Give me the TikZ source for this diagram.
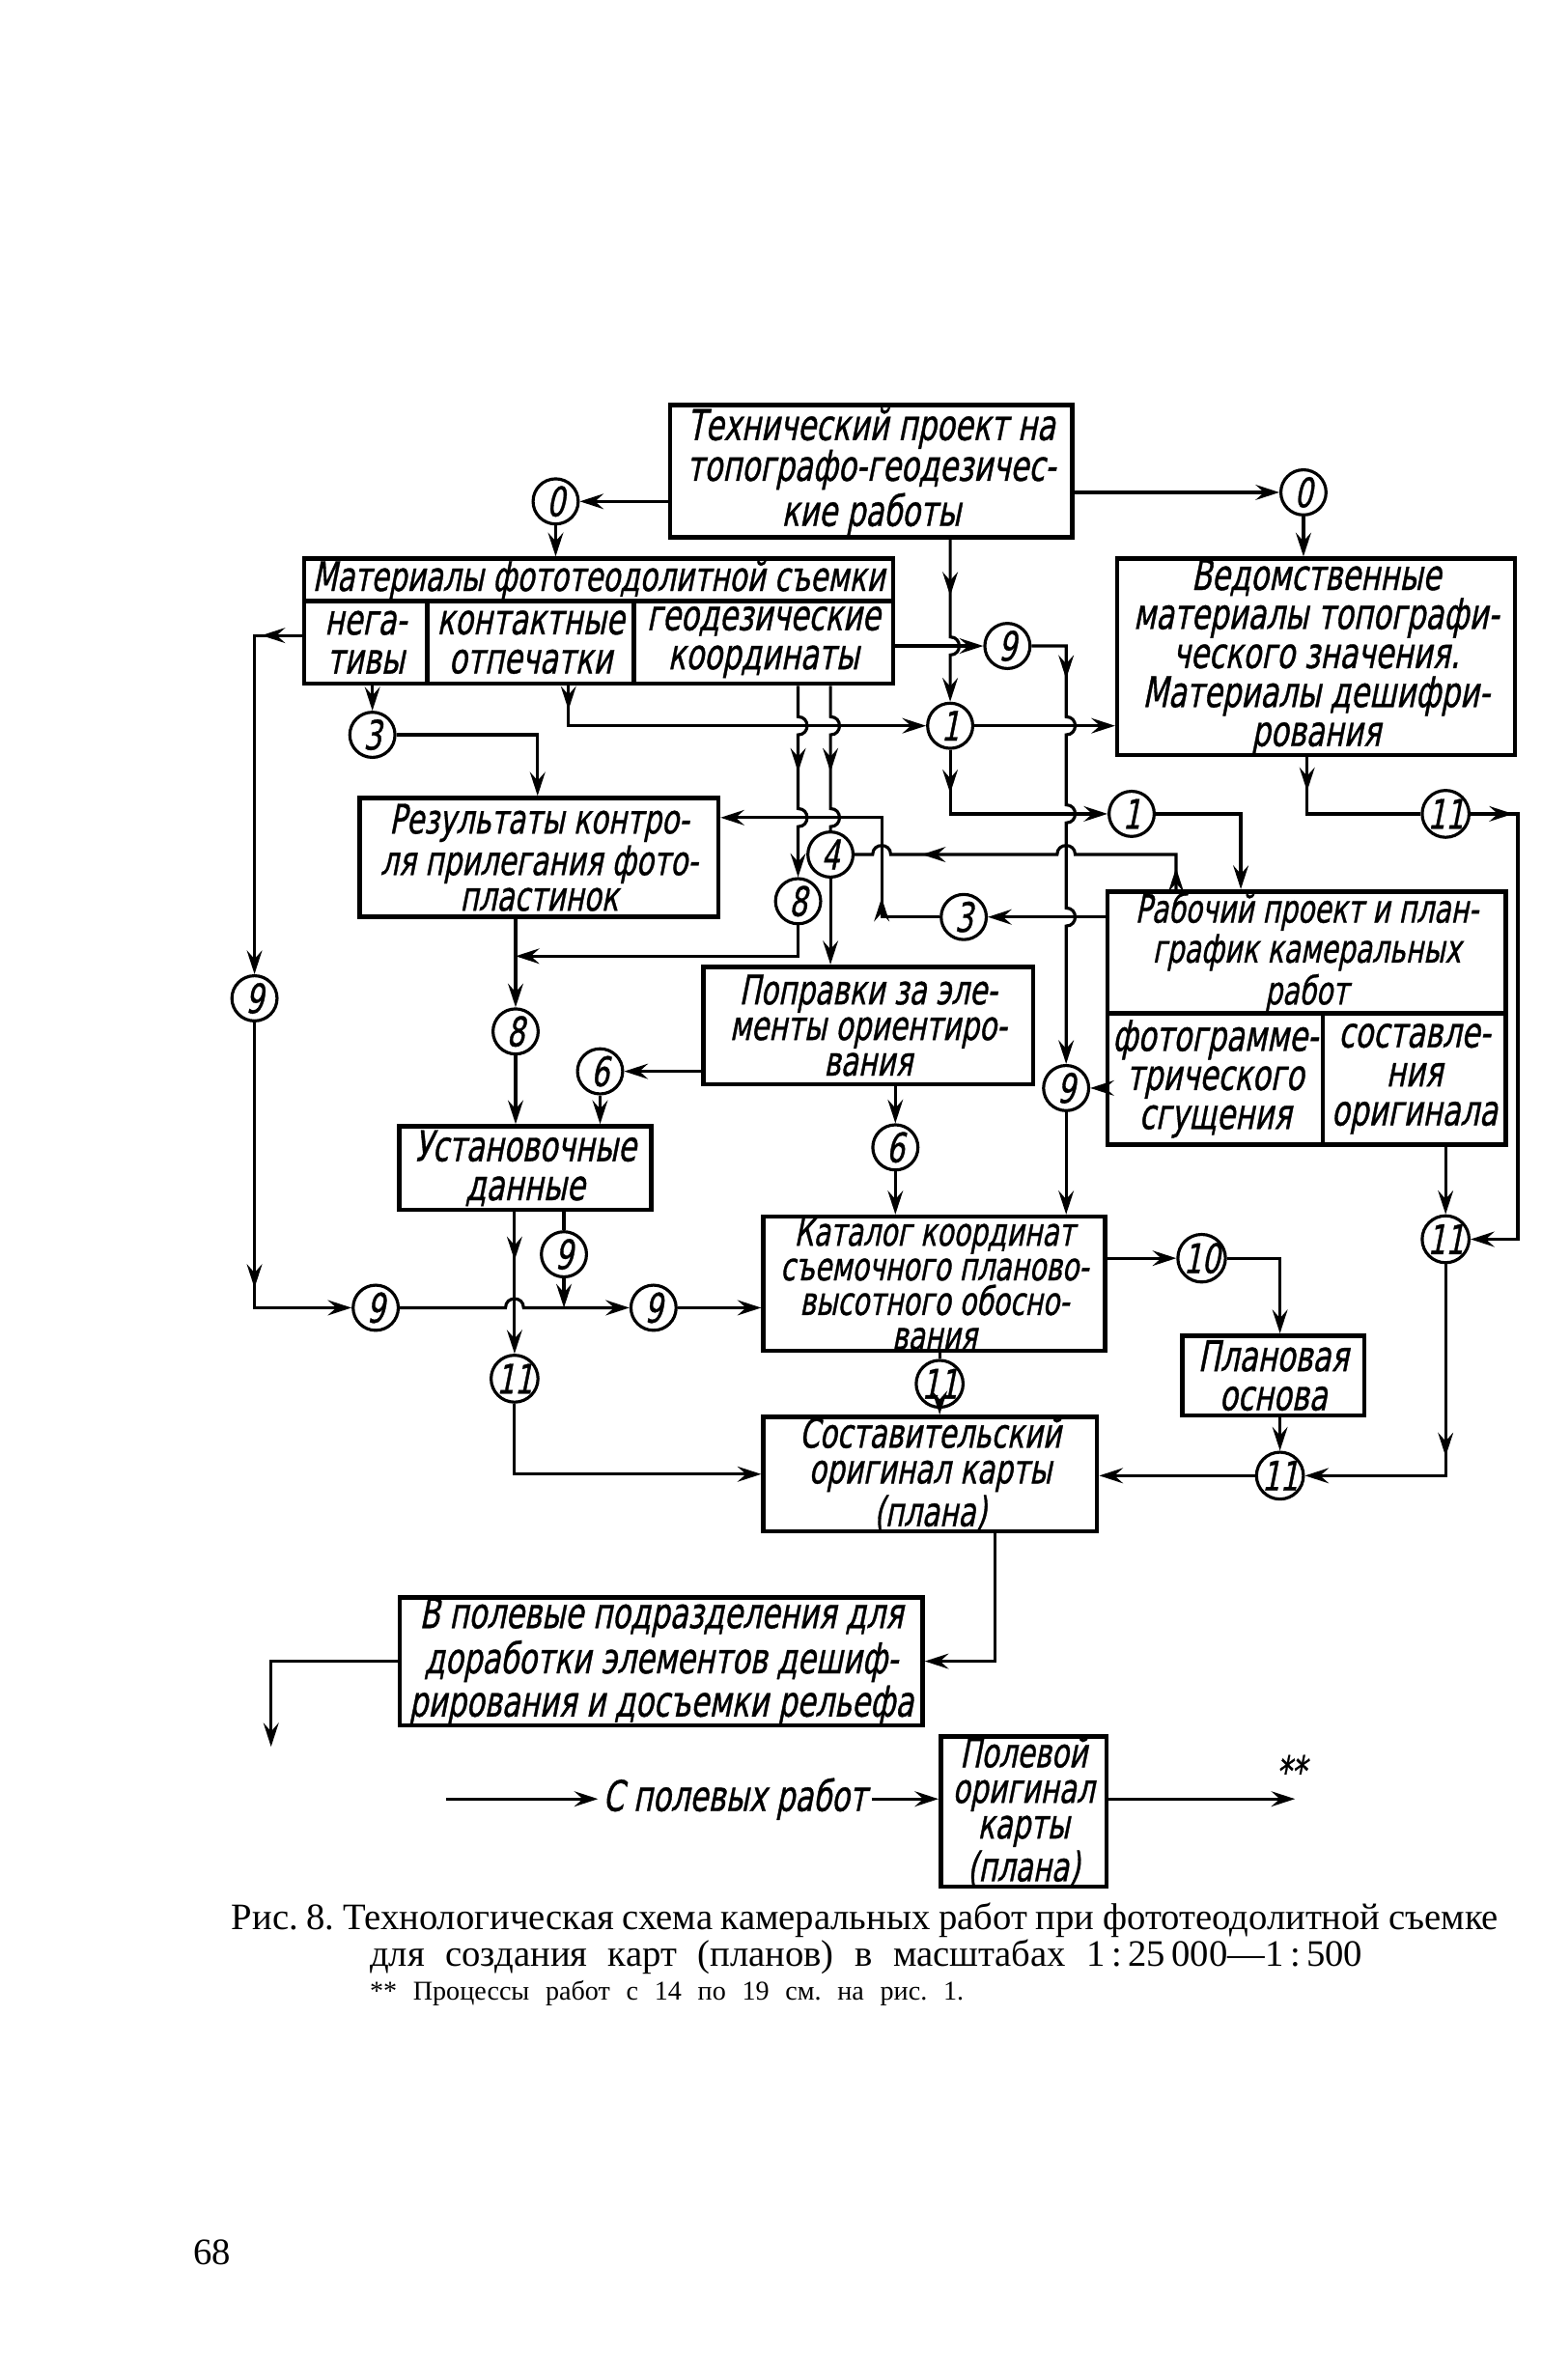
\documentclass[tikz,border=0pt]{standalone}
\usepackage{fontspec}
\newfontfamily\hand{DejaVu Sans}[FakeSlant=0.2,FakeStretch=0.7,FakeBold=0.8]
\newfontfamily\capfont{Liberation Serif}
\usetikzlibrary{arrows.meta,decorations.markings}
\newcommand{\px}{0.015596cm}
\frenchspacing

\begin{document}
\begin{tikzpicture}[x=0.015596cm,y=-0.015596cm,
	line width=0.9pt,
	arr/.style={-{Stealth[length=7pt,width=4.5pt,inset=2.5pt]}},
	midtip/.style={postaction={decorate,decoration={markings,
		mark=at position #1 with {\arrow{Stealth[length=7pt,width=4.5pt,inset=2.5pt]}}}}},
	box/.style={draw, line width=1.3pt, inner sep=0pt, align=center,
		font=\hand\fontsize{12.5}{11.5}\selectfont},
	nd/.style={circle, draw, inner sep=0pt, minimum size=30*\px,
		font=\hand\fontsize{12}{12}\selectfont},
	captxt/.style={inner sep=0pt, font=\capfont\fontsize{11}{11}\selectfont},
	hopd/.style 2 args={insert path={-- (#1,#2-6) .. controls (#1+8,#2-6) and (#1+8,#2+6) .. (#1,#2+6)}},
	hopl/.style 2 args={insert path={-- (#1+6,#2) .. controls (#1+6,#2-8) and (#1-6,#2-8) .. (#1-6,#2)}},
	hopr/.style 2 args={insert path={-- (#1-6,#2) .. controls (#1-6,#2-8) and (#1+6,#2-8) .. (#1+6,#2)}}]

	\useasboundingbox (0,0) rectangle (1024,1580.6);

	% boxes
	\node[box, minimum width=267*\px, minimum height=88*\px, font=\hand\fontsize{12.5}{12}\selectfont] (T) at (578.5,313)
		{Технический проект на\\топографо-геодезичес-\\кие работы};
	\node[box, minimum width=391*\px, minimum height=28*\px, font=\hand\fontsize{12}{12}\selectfont] (Mh) at (397.5,385)
		{Материалы фототеодолитной съемки};
	\node[box, minimum width=81.6*\px, minimum height=55*\px] (Mn) at (242.8,426.5) {нега-\\тивы};
	\node[box, minimum width=137.4*\px, minimum height=55*\px] (Mk) at (352.3,426.5) {контактные\\отпечатки};
	\node[box, minimum width=172*\px, minimum height=55*\px] (Mg) at (507,426.5) {геодезические\\координаты};
	\node[box, minimum width=264*\px, minimum height=130.5*\px] (V) at (874,436.3)
		{Ведомственные\\материалы топографи-\\ческого значения.\\Материалы дешифри-\\рования};
	\node[box, minimum width=238*\px, minimum height=79*\px, font=\hand\fontsize{12}{10.5}\selectfont] (R) at (358,569.5)
		{Результаты контро-\\ля прилегания фото-\\пластинок};
	\node[box, minimum width=219*\px, minimum height=78*\px, font=\hand\fontsize{12}{10.5}\selectfont] (P) at (576.5,681)
		{Поправки за эле-\\менты ориентиро-\\вания};
	\node[box, minimum width=264.5*\px, minimum height=81*\px, font=\hand\fontsize{11.5}{10.3}\selectfont] (Wt) at (867.75,632.5)
		{Рабочий проект и план-\\график камеральных\\работ};
	\node[box, minimum width=143*\px, minimum height=87*\px] (Wf) at (807,716.5) {фотограмме-\\трического\\сгущения};
	\node[box, minimum width=121.5*\px, minimum height=87*\px] (Ws) at (939.25,716.5) {составле-\\ния\\оригинала};
	\node[box, minimum width=167.5*\px, minimum height=55.5*\px] (U) at (348.75,775.75) {Установочные\\данные};
	\node[box, minimum width=227*\px, minimum height=89*\px, font=\hand\fontsize{11.5}{10.2}\selectfont] (K) at (620.5,852.5)
		{Каталог координат\\съемочного планово-\\высотного обосно-\\вания};
	\node[box, minimum width=121*\px, minimum height=53*\px] (PO) at (845.5,913.5) {Плановая\\основа};
	\node[box, minimum width=221.5*\px, minimum height=70*\px, font=\hand\fontsize{12}{10.5}\selectfont] (S) at (617.75,979)
		{Составительский\\оригинал карты\\(плана)};
	\node[box, minimum width=347.2*\px, minimum height=82.5*\px] (F) at (439.1,1103.25)
		{В полевые подразделения для\\доработки элементов дешиф-\\рирования и досъемки рельефа};
	\node[box, minimum width=110*\px, minimum height=98*\px, font=\hand\fontsize{12}{10.5}\selectfont] (PL) at (679.7,1203)
		{Полевой\\оригинал\\карты\\(плана)};

	% circles
	\node[nd] (c0l) at (369,333) {0};
	\node[nd] (c0r) at (865.6,327) {0};
	\node[nd] (c9a) at (669,429) {9};
	\node[nd] (c1a) at (631,482) {1};
	\node[nd] (c3a) at (247.3,488) {3};
	\node[nd] (c1b) at (751.5,540.5) {1};
	\node[nd] (c11a) at (960,540.5) {11};
	\node[nd] (c4) at (551.5,567.5) {4};
	\node[nd] (c8a) at (530,598.5) {8};
	\node[nd] (c3b) at (640,609) {3};
	\node[nd] (c9l) at (169,663) {9};
	\node[nd] (c8b) at (342.4,685) {8};
	\node[nd] (c6a) at (398.5,711.5) {6};
	\node[nd] (c9r) at (708,722.6) {9};
	\node[nd] (c6b) at (594.6,762) {6};
	\node[nd] (c9u) at (374.5,833) {9};
	\node[nd] (c11r) at (960,823) {11};
	\node[nd] (c9bl) at (249.5,868.5) {9};
	\node[nd] (c9br) at (434,868.5) {9};
	\node[nd] (c10) at (798,835.6) {10};
	\node[nd] (c11b) at (341.7,915.6) {11};
	\node[nd] (c11k) at (624,919) {11};
	\node[nd] (c11p) at (850,980) {11};

	% top
	\draw[arr] (T.west |- c0l) -- (c0l);
	\draw[arr] (c0l) -- (c0l |- Mh.north);
	\draw[arr] (T.east |- c0r) -- (c0r);
	\draw[arr] (c0r) -- (c0r |- V.north);
	\draw[arr, midtip=0.58cm] (T.south -| c1a) [hopd={631}{429}] -- (c1a);
	\draw[arr] (Mg.east |- c9a) -- (c9a);
	\draw[arr, midtip=0.7cm] (c9a) -- (708,429) [hopd={708}{482}] [hopd={708}{540.5}] [hopd={708}{609}] -- (c9r);
	\draw[arr, midtip=0.25cm] (377.5,0 |- Mk.south) |- (c1a);
	\draw[arr] (c1a) -- (c1a -| V.west);
	\draw[arr, midtip=0.45cm] (c1a) |- (c1b);
	\draw[arr] (c1b) -| (Wt.north -| 824,0);
	\draw[midtip=0.35cm] (868,0 |- V.south) |- (c11a);
	\draw[arr, midtip=0.44cm] (c11a) -- ++(48,0) |- (c11r);

	% geodesic coordinates
	\draw[arr, midtip=1.0cm] (530,0 |- Mg.south) [hopd={530}{482}] [hopd={530}{543}] -- (c8a);
	\draw[midtip=1.0cm] (551.5,0 |- Mg.south) [hopd={551.5}{482}] [hopd={551.5}{543}] -- (c4);
	\draw[arr] (Mn.south -| c3a) -- (c3a);
	\draw[arr] (c3a) -| (R.north -| 357,0);

	% working project
	\draw[midtip=0.22cm, midtip=3.1cm] (781,0 |- Wt.north) -- (781,567.5)
		[hopl={708}{567.5}] [hopl={585.5}{567.5}] -- (c4);
	\draw[arr] (Wt.west |- c3b) -- (c3b);
	\draw[arr, midtip=0.8cm] (c3b) -| (585.5,543) -- (R.east |- 585.5,543);
	\draw[arr] (Wf.west |- c9r) -- (c9r);

	% middle
	\draw[arr] (c8a) |- (c8b |- 0,635);
	\draw[arr] (R.south -| c8b) -- (c8b);
	\draw[arr] (c4) -- (c4 |- P.north);
	\draw[arr] (P.west |- c6a) -- (c6a);
	\draw[arr] (c6a) -- (c6a |- U.north);
	\draw[arr] (c8b) -- (c8b |- U.north);
	\draw[arr] (P.south -| c6b) -- (c6b);
	\draw[arr] (c6b) -- (c6b |- K.north);
	\draw[arr] (c9r) -- (c9r |- K.north);

	% left loop
	\draw[arr, midtip=0.42cm] (Mn.west |- 0,422) -| (c9l);
	\draw[arr, midtip=2.75cm] (c9l) |- (c9bl);
	\draw[arr] (c9bl) [hopr={341.7}{868.5}] -- (c9br);
	\draw (U.south -| c9u) -- (c9u);
	\draw[arr] (c9u) -- (c9u |- c9br);
	\draw[arr, midtip=0.5cm] (U.south -| c11b) -- (c11b);
	\draw[arr] (c11b) |- (S.west);
	\draw[arr] (c9br) -- (K.west |- c9br);

	% lower right
	\draw (K.south -| c11k) -- (c11k);
	\draw[arr] (c11k) -- (c11k |- S.north);
	\draw[arr] (K.east |- c10) -- (c10);
	\draw[arr] (c10) -| (PO.north -| c11p);
	\draw[arr] (PO.south -| c11p) -- (c11p);
	\draw[arr] (Ws.south -| c11r) -- (c11r);
	\draw[arr, midtip=1.99cm] (c11r) |- (c11p);
	\draw[arr] (c11p) -- (S.east |- c11p);

	% bottom
	\coordinate (fw) at (180,1160);
	\coordinate (src0) at (296,1194.7);
	\coordinate (dst) at (860,1194.7);
	\draw[arr] (660.6,0 |- S.south) |- (F.east);
	\draw[arr] (F.west) -| (fw);
	\node[inner sep=1pt, font=\hand\fontsize{12.5}{11}\selectfont] (src) at (488,1194.7) {С полевых работ};
	\draw[arr] (src0) -- (src.west);
	\draw[arr] (src.east) -- (PL.west |- src);
	\draw[arr] (PL.east |- dst) -- (dst);
	\node[font=\hand\fontsize{12.5}{11}\selectfont] (ast) at (857,1176) {**};

	% caption
	\node[captxt] (cap1) at (574.5,1275) {\makebox[13.12cm][s]{Рис. 8. Технологическая схема камеральных работ при фототеодолитной съемке}};
	\node[captxt] (cap2) at (575.3,1299.5) {\makebox[10.28cm][s]{для создания карт (планов) в масштабах 1\,:\,25\,000—1\,:\,500}};
	\node[captxt, font=\capfont\fontsize{8}{8}\selectfont] (cap3) at (442.8,1324) {\makebox[6.15cm][s]{** Процессы работ с 14 по 19 см. на рис.~1.}};
	\node[captxt] (page) at (141,1496) {68};
\end{tikzpicture}
\end{document}
